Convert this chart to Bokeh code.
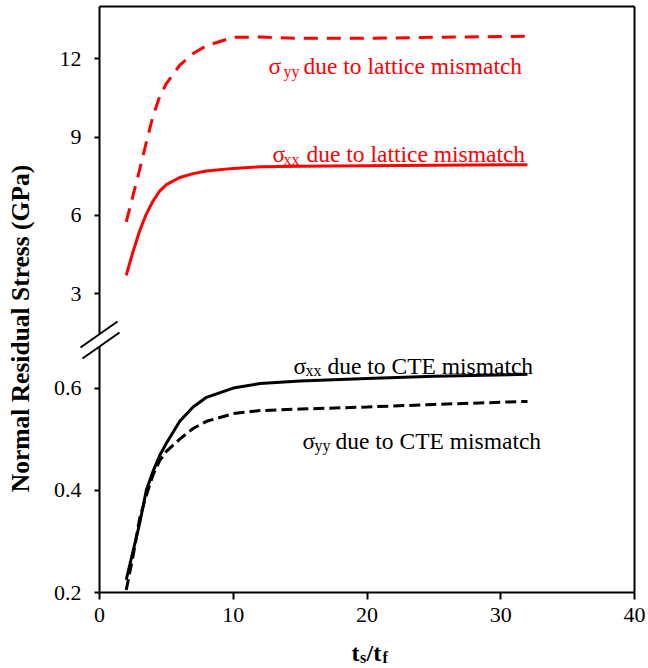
from bokeh.plotting import figure
from bokeh.models import Range1d, LinearAxis, FixedTicker, Label, Arrow
from bokeh.embed import file_html
from bokeh.resources import INLINE

# ---- data ----
x_ratio = [2, 2.5, 3, 3.5, 4, 4.5, 5, 6, 7, 8, 10, 12, 15, 20, 25, 32]
syy_lattice = [5.75, 6.75, 7.75, 8.8, 9.8, 10.55, 11.05, 11.75, 12.2, 12.5, 12.82, 12.83, 12.78, 12.78, 12.82, 12.86]
sxx_lattice = [3.70, 4.6, 5.4, 6.05, 6.55, 6.93, 7.18, 7.45, 7.6, 7.7, 7.8, 7.86, 7.88, 7.9, 7.92, 7.94]
sxx_cte = [0.225, 0.28, 0.335, 0.40, 0.437, 0.468, 0.492, 0.535, 0.563, 0.582, 0.600, 0.609, 0.614, 0.619, 0.623, 0.627]
syy_cte = [0.205, 0.27, 0.345, 0.39, 0.43, 0.458, 0.476, 0.500, 0.521, 0.535, 0.550, 0.556, 0.559, 0.563, 0.568, 0.574]
x_ticks = [0, 10, 20, 30, 40]
upper_ticks = [3, 6, 9, 12]
lower_ticks = [0.2, 0.4, 0.6]

# ---- layout: the frame fills the canvas, axes are placed at fixed locations ----
W, H = 648, 668
X_MIN, X_MAX = 0, 40
LOW_MIN = 0.2
UP_MAX = 14.0

def dx(px):          # x pixel -> x data
    return X_MIN + (px - 99) / 13.375

def dy(py):          # y pixel -> lower-panel data
    return LOW_MIN + (592 - py) / 511.0

def dyu(py):         # y pixel -> upper-panel data
    return UP_MAX - (py - 6) / 26.11

FONT = "Liberation Serif"
RED = "#FF0000"

p = figure(width=W, height=H, frame_width=W, frame_height=H, min_border=0,
           x_range=Range1d(dx(0), dx(W)), y_range=Range1d(dy(H), dy(0)),
           x_axis_location=None, y_axis_location=None,
           output_backend="svg", toolbar_location=None,
           background_fill_color="white", border_fill_color="white")
p.extra_y_ranges = {"upper": Range1d(dyu(H), dyu(0))}
p.grid.visible = False
p.outline_line_color = None

common = dict(axis_line_width=2, axis_line_color="black", major_tick_line_width=2,
              major_tick_line_color="black", major_tick_in=0, minor_tick_in=0, minor_tick_out=0,
              major_label_text_font=FONT, major_label_text_font_size="22px",
              major_label_text_color="black")

xa = LinearAxis(fixed_location=LOW_MIN, bounds=(X_MIN, X_MAX), ticker=FixedTicker(ticks=x_ticks),
                major_tick_out=7, major_label_standoff=8, **common)
p.add_layout(xa, "below")

ya = LinearAxis(fixed_location=X_MIN, bounds=(LOW_MIN, dy(346)), ticker=FixedTicker(ticks=lower_ticks),
                major_tick_out=5, major_label_standoff=13, **common)
p.add_layout(ya, "left")

yu = LinearAxis(y_range_name="upper", fixed_location=X_MIN, bounds=(dyu(333.5), UP_MAX),
                ticker=FixedTicker(ticks=upper_ticks), major_tick_out=5, major_label_standoff=13, **common)
p.add_layout(yu, "left")

# frame top and right borders (axis lines only)
border = dict(ticker=FixedTicker(ticks=[]), major_label_text_font_size="0px", axis_line_width=2,
              axis_line_color="black", major_tick_out=0, major_tick_in=0, minor_tick_out=0, minor_tick_in=0)
p.add_layout(LinearAxis(fixed_location=dy(6), bounds=(X_MIN, X_MAX), **border), "above")
p.add_layout(LinearAxis(fixed_location=X_MAX, bounds=(LOW_MIN, dy(6)), **border), "right")

# axis break marks
p.add_layout(Arrow(end=None, x_start=dx(80), y_start=dy(347), x_end=dx(117), y_end=dy(321),
                   line_color="black", line_width=2))
p.add_layout(Arrow(end=None, x_start=dx(82), y_start=dy(358), x_end=dx(119), y_end=dy(332),
                   line_color="black", line_width=2))

# curves
p.line(x_ratio, syy_lattice, y_range_name="upper", line_color=RED, line_width=3, line_dash="14 9")
p.line(x_ratio, sxx_lattice, y_range_name="upper", line_color=RED, line_width=3)
p.line(x_ratio, sxx_cte, line_color="black", line_width=3)
p.line(x_ratio, syy_cte, line_color="black", line_width=3, line_dash="11 5")

def lab(px, py, text, size, color="black", bold=False, angle=0, align="left", baseline="alphabetic"):
    p.add_layout(Label(x=dx(px), y=dy(py), text=text, text_font=FONT,
                       text_font_size=f"{size}px", text_color=color,
                       text_font_style="bold" if bold else "normal",
                       angle=angle, text_align=align, text_baseline=baseline))

# series annotations
lab(268, 65, "σ", 23.5, RED)
lab(283, 71, "yy", 16, RED)
lab(303, 65, "due to lattice mismatch", 23.5, RED)

lab(272, 153, "σ", 23.5, RED)
lab(283, 159, "xx", 16, RED)
lab(306, 153, "due to lattice mismatch", 23.5, RED)

lab(293, 365, "σ", 23.5)
lab(305, 370, "xx", 16)
lab(327, 365, "due to CTE mismatch", 23.5)

lab(302, 440, "σ", 23.5)
lab(314, 445, "yy", 16)
lab(335, 440, "due to CTE mismatch", 23.5)

# axis titles
lab(20, 328, "Normal Residual Stress (GPa)", 25.5, bold=True, angle=1.5707963, align="center", baseline="middle")
lab(351, 652, "t", 24, bold=True)
lab(359.5, 657, "s", 16, bold=True)
lab(366, 652, "/t", 24, bold=True)
lab(382, 657, "f", 16, bold=True)

open("out.html", "w").write(file_html(p, INLINE))
